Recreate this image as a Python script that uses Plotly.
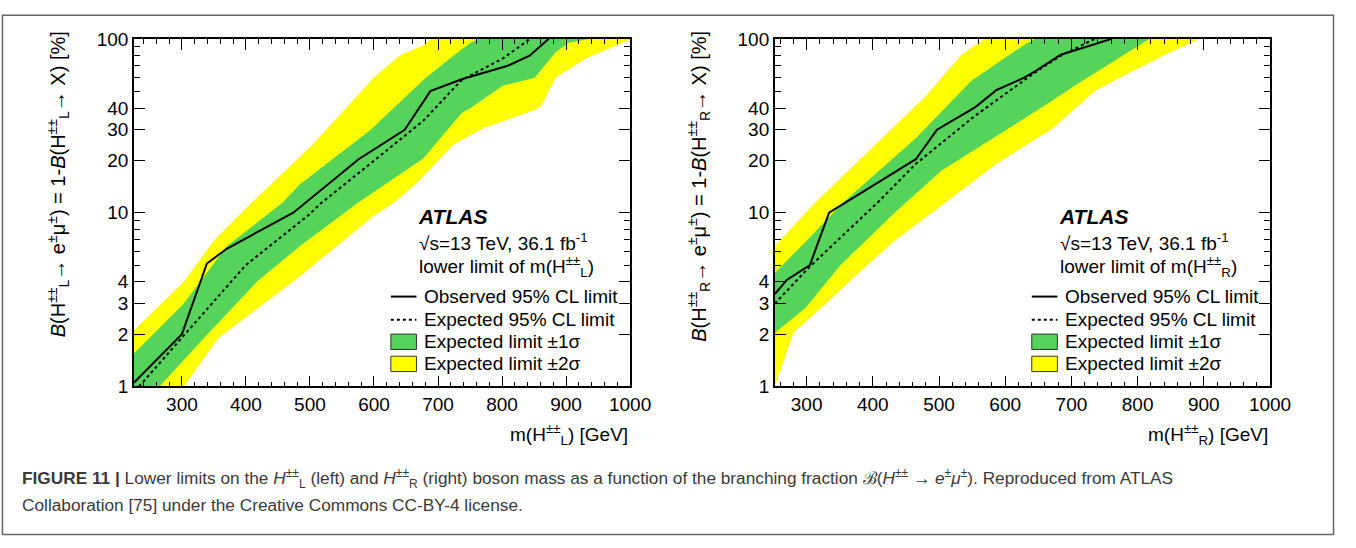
import plotly.graph_objects as go

W, H = 1356, 548

# ---------------- data: left panel (H_L) ----------------
mass_L_obs = [225, 300, 339, 370, 474, 576, 648, 688, 737, 809, 843, 873]
br_L_obs = [1.05, 2.0, 5.1, 6.2, 10, 20.3, 30, 50, 58.5, 70, 80, 100]
mass_L_exp = [233, 300, 400, 498, 518, 600, 648, 677, 737, 801, 844]
br_L_exp = [1.0, 1.9, 5.0, 9.7, 11.4, 19.9, 27.5, 33.8, 58, 77, 100]

mass_L_p2 = [225, 303, 350, 400, 504, 600, 640, 677, 690]
br_L_p2 = [2.1, 4.0, 6.9, 10.6, 24.6, 60, 80, 92, 100]
mass_L_p1 = [225, 303, 370, 457, 484, 595, 677, 724, 751, 764]
br_L_p1 = [1.55, 3.0, 6.4, 11.4, 14.5, 30, 58, 80, 95, 100]
mass_L_m1 = [265, 340, 417, 484, 575, 677, 737, 751, 801, 851, 884, 904, 938]
br_L_m1 = [1.0, 2.0, 4.0, 6.4, 11.4, 20.5, 37.5, 40, 53.7, 59.7, 84, 95, 100]
mass_L_m2 = [303, 357, 417, 484, 600, 631, 667, 724, 771, 851, 861, 884, 931, 1000]
br_L_m2 = [1.0, 1.9, 2.8, 4.3, 9.6, 11.4, 14.8, 24.6, 30.6, 39, 41, 60, 77, 99]

# ---------------- data: right panel (H_R) ----------------
mass_R_obs = [252, 270, 305, 334, 465, 497, 555, 587, 628, 645, 684, 761]
br_R_obs = [3.4, 4.1, 5.0, 10, 20.3, 30, 40.5, 50.8, 59.6, 65, 81, 100]
mass_R_exp = [252, 305, 408, 465, 554, 628, 645, 684, 735]
br_R_exp = [3.0, 4.9, 11.5, 19.1, 36, 57.5, 64, 80, 100]

mass_R_p2 = [252, 311, 401, 479, 534, 569]
br_R_p2 = [6.4, 11.2, 24, 46.5, 81, 100]
mass_R_p1 = [252, 300, 356, 465, 549, 628, 645]
br_R_p1 = [4.5, 6.9, 11.5, 26.8, 57.5, 92, 100]
mass_R_m1 = [252, 299, 350, 433, 504, 581, 628, 658, 709, 754, 818]
br_R_m1 = [2.03, 2.85, 4.94, 10, 17.5, 26.7, 34.6, 41, 55, 70.6, 100]
mass_R_m2 = [252, 280, 331, 369, 433, 504, 587, 671, 735, 773, 850, 895]
br_R_m2 = [1.0, 2.03, 3.04, 4.17, 6.9, 11, 19.1, 30.4, 50, 59.7, 84, 100]

x_ranges = {"L": [225, 1000], "R": [252, 1000]}
y_ticks = [1, 2, 3, 4, 10, 20, 30, 40, 100]
y_minor = [5, 6, 7, 8, 9, 50, 60, 70, 80, 90]

YELLOW = "#FFFF00"
GREEN = "#55D35B"
FONT = "Liberation Sans, Arial, Helvetica, sans-serif"


def px(x):
    return x / W


def py(y):
    return 1 - y / H


def band(upper, lower, xmin):
    """Closed polygon: upper edge, a point above the top, lower edge reversed, closed below/left."""
    ux, uy = upper
    lx, ly = lower
    xs = [xmin - 20] + ux + [ux[-1] + 1, lx[-1] + 1] + lx[::-1] + [lx[0] - 1, xmin - 20]
    ys = [uy[0]] + uy + [300, 300] + ly[::-1] + [0.3, 0.3]
    return xs, ys


fig = go.Figure()

panels = [
    ("L", "x", "y",
     (mass_L_obs, br_L_obs), (mass_L_exp, br_L_exp),
     (mass_L_p1, br_L_p1), (mass_L_m1, br_L_m1),
     (mass_L_p2, br_L_p2), (mass_L_m2, br_L_m2)),
    ("R", "x2", "y2",
     (mass_R_obs, br_R_obs), (mass_R_exp, br_R_exp),
     (mass_R_p1, br_R_p1), (mass_R_m1, br_R_m1),
     (mass_R_p2, br_R_p2), (mass_R_m2, br_R_m2)),
]

AX_TOP, AX_BOT = 30, 391.5

for (lab, xa, ya, obs, exp, p1, m1, p2, m2) in panels:
    xr = x_ranges[lab]
    bx2, by2 = band(p2, m2, xr[0])
    fig.add_trace(go.Scatter(x=bx2, y=by2, fill="toself", fillcolor=YELLOW,
                             line=dict(width=0), mode="lines", xaxis=xa, yaxis=ya,
                             showlegend=False, hoverinfo="skip"))
    bx1, by1 = band(p1, m1, xr[0])
    fig.add_trace(go.Scatter(x=bx1, y=by1, fill="toself", fillcolor=GREEN,
                             line=dict(width=0), mode="lines", xaxis=xa, yaxis=ya,
                             showlegend=False, hoverinfo="skip"))
    fig.add_trace(go.Scatter(x=exp[0], y=exp[1], mode="lines",
                             line=dict(color="black", width=2, dash="3px,3px"),
                             xaxis=xa, yaxis=ya, showlegend=False))
    fig.add_trace(go.Scatter(x=obs[0], y=obs[1], mode="lines",
                             line=dict(color="black", width=2),
                             xaxis=xa, yaxis=ya, showlegend=False))

axis_common = dict(showline=True, linecolor="black", linewidth=1.5, mirror="ticks",
                   ticks="inside", tickcolor="black", tickwidth=1.3, showgrid=False,
                   zeroline=False, tickfont=dict(family=FONT, size=19, color="black"))

for lab, xa, ya, x0, x1 in [("L", "xaxis", "yaxis", 136, 640), ("R", "xaxis2", "yaxis2", 787, 1290)]:
    fig.update_layout({
        xa: dict(axis_common, domain=[px(x0), px(x1)], range=x_ranges[lab],
                 dtick=100, tick0=0, ticklen=11,
                 minor=dict(dtick=20, tick0=0, ticks="inside", ticklen=5, tickcolor="black", tickwidth=1.2),
                 anchor=ya.replace("axis", "")),
        ya: dict(axis_common, domain=[py(AX_BOT), py(AX_TOP)], type="log", range=[0, 2],
                 tickvals=y_ticks, ticktext=[str(v) for v in y_ticks], ticklen=11,
                 minor=dict(tickvals=y_minor, ticks="inside", ticklen=6, tickcolor="black", tickwidth=1.2),
                 anchor=xa.replace("axis", "")),
    })

annotations = []
shapes = []

for (sub, off, x1) in [("L", 0, 640), ("R", 651, 1290)]:
    hs = f"H<sup>±±</sup><sub>{sub}</sub>"
    # y-axis title
    annotations.append(dict(
        x=px(59 + off), y=py(20), xref="paper", yref="paper", xanchor="center", yanchor="top",
        textangle=-90, showarrow=False,
        text=f"<i>B</i>({hs}→ e<sup>±</sup>μ<sup>±</sup>) = 1-<i>B</i>({hs}→ X) [%]",
        font=dict(family=FONT, size=20, color="black")))
    # x-axis title
    annotations.append(dict(
        x=px(x1), y=py(441), xref="paper", yref="paper", xanchor="right", yanchor="middle",
        showarrow=False, text=f"m({hs}) [GeV]",
        font=dict(family=FONT, size=19, color="black")))
    # ATLAS label
    annotations.append(dict(
        x=px(423 + off), y=py(215), xref="paper", yref="paper", xanchor="left", yanchor="middle",
        showarrow=False, text="<b><i>ATLAS</i></b>",
        font=dict(family=FONT, size=21, color="black")))
    annotations.append(dict(
        x=px(424 + off), y=py(241), xref="paper", yref="paper", xanchor="left", yanchor="middle",
        showarrow=False, text="√s=13 TeV, 36.1 fb<sup>-1</sup>",
        font=dict(family=FONT, size=19, color="black")))
    annotations.append(dict(
        x=px(424 + off), y=py(267), xref="paper", yref="paper", xanchor="left", yanchor="middle",
        showarrow=False, text=f"lower limit of m({hs})",
        font=dict(family=FONT, size=19, color="black")))
    # legend
    leg = [("Observed 95% CL limit", 298, "line"), ("Expected 95% CL limit", 322, "dash"),
           ("Expected limit ±1σ", 345, GREEN), ("Expected limit ±2σ", 368, YELLOW)]
    for text, yy, kind in leg:
        annotations.append(dict(
            x=px(429 + off), y=py(yy), xref="paper", yref="paper", xanchor="left", yanchor="middle",
            showarrow=False, text=text, font=dict(family=FONT, size=19, color="black")))
        if kind == "line":
            shapes.append(dict(type="line", xref="paper", yref="paper", x0=px(397 + off), x1=px(423 + off),
                               y0=py(yy), y1=py(yy), line=dict(color="black", width=2)))
        elif kind == "dash":
            shapes.append(dict(type="line", xref="paper", yref="paper", x0=px(397 + off), x1=px(423 + off),
                               y0=py(yy), y1=py(yy), line=dict(color="black", width=2, dash="3px,3px")))
        else:
            shapes.append(dict(type="rect", xref="paper", yref="paper", x0=px(397 + off), x1=px(423 + off),
                               y0=py(yy - 8), y1=py(yy + 8), fillcolor=kind,
                               line=dict(color="#333333", width=1)))

# caption
CAP = "Liberation Sans, Arial, sans-serif"
annotations.append(dict(
    x=px(20), y=py(487), xref="paper", yref="paper", xanchor="left", yanchor="middle", showarrow=False,
    text=("<b>FIGURE 11 |</b> Lower limits on the <i>H</i><sup>±±</sup><sub>L</sub> (left) and "
          "<i>H</i><sup>±±</sup><sub>R</sub> (right) boson mass as a function of the branching fraction "
          "ℬ(<i>H</i><sup>±±</sup> → <i>e</i><sup>±</sup><i>μ</i><sup>±</sup>). Reproduced from ATLAS"),
    font=dict(family=CAP, size=17.25, color="#3a3a3a")))
annotations.append(dict(
    x=px(20), y=py(515), xref="paper", yref="paper", xanchor="left", yanchor="middle", showarrow=False,
    text="Collaboration [75] under the Creative Commons CC-BY-4 license.",
    font=dict(family=CAP, size=17.25, color="#3a3a3a")))

# outer frame
shapes.append(dict(type="rect", xref="paper", yref="paper", x0=px(2.5), x1=px(1354.5),
                   y0=py(545.5), y1=py(5.5), line=dict(color="#666666", width=1.5)))

fig.update_layout(width=W, height=H, margin=dict(l=0, r=0, t=0, b=0),
                  paper_bgcolor="white", plot_bgcolor="white",
                  annotations=annotations, shapes=shapes, showlegend=False)

fig.write_html("out.html")
